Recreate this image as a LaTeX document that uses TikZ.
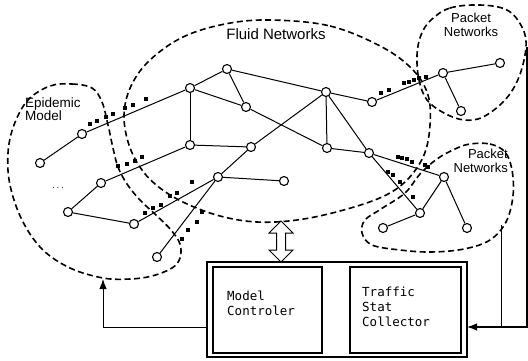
\documentclass[tikz,border=0pt]{standalone}
\usepackage{fontspec}
\setmainfont{Liberation Sans}
\newfontfamily\unitfont{DejaVu Sans Mono}
\usetikzlibrary{arrows.meta}
\tikzset{
	host/.style={circle, draw, fill=white, line width=1.1pt,
		inner sep=0pt, minimum size=9pt},
	pkt/.style={rectangle, fill=black, inner sep=0pt, minimum size=4pt},
	link/.style={line width=1pt},
	region/.style={line width=1.6pt, dash pattern=on 6pt off 3.5pt},
	lbl/.style={font=\fontsize{13}{14.5}\selectfont, inner sep=0pt},
	unit/.style={draw, line width=1.1pt, inner sep=0pt},
	unittext/.style={font=\unitfont\fontsize{12.5}{15}\selectfont,
		align=left, anchor=west, inner sep=0pt},
	arr/.style={line width=1pt, -{Latex[length=10pt,width=7.5pt]}}
}

\begin{document}
\begin{tikzpicture}[x=1pt, y=-1pt]
	\useasboundingbox (0,0) rectangle (528,360);

	\draw [region] plot [smooth cycle, tension=0.6] coordinates {
		(270,20) (330,26) (382,47) (413,70) (428,95) (430,125)
		(424,155) (407,180) (382,197) (340,211) (297,220) (257,222)
		(220,216) (185,203) (160,188) (142,170) (129,145) (124,115)
		(131,86) (150,60) (183,37) (225,24) };
	\draw [region] plot [smooth cycle, tension=0.6] coordinates {
		(50,86) (72,84) (92,88) (102,102) (108,125) (113,148)
		(118,167) (127,184) (140,200) (157,216) (171,230) (180,244)
		(180,258) (172,268) (152,276) (130,279) (103,278) (70,268)
		(42,249) (22,220) (10,185) (8,153) (14,125) (28,100) };
	\draw [region] plot [smooth cycle, tension=0.6] coordinates {
		(431,20) (450,8) (480,5) (507,10) (522,27) (526,47)
		(519,77) (505,100) (483,117) (464,120) (444,113) (427,100)
		(419,80) (417,55) (421,35) };
	\draw [region] plot [smooth cycle, tension=0.6] coordinates {
		(470,144) (490,144) (505,152) (512,170) (513,196) (506,222)
		(490,240) (464,249) (431,252) (400,250) (372,245) (362,233)
		(365,220) (381,209) (405,193) (420,174) (437,159) (455,149) };

	\node [lbl, font=\fontsize{15}{16}\selectfont] (fluid) at (276,34) {Fluid Networks};
	\node [lbl, align=left, anchor=west, font=\fontsize{13.5}{12.5}\selectfont]
		(epi) at (25,109) {Epidemic\\Model};
	\node [lbl, align=center] (pk1) at (471,25) {Packet\\Networks};
	\node [lbl, align=right, anchor=east] (pk2) at (508,161) {Packet\\Networks};
	\node (dots) at (58,188) {$\cdots$};

	\node [host] (1) at (40,163) {};
	\node [host] (2) at (82,134) {};
	\node [host] (3) at (101,183) {};
	\node [host] (4) at (68,212) {};
	\node [host] (5) at (134,224) {};
	\node [host] (6) at (157,257) {};
	\node [host] (7) at (190,88) {};
	\node [host] (8) at (227,69) {};
	\node [host] (9) at (246,107) {};
	\node [host] (10) at (190,145) {};
	\node [host] (11) at (251,147) {};
	\node [host] (12) at (218,177) {};
	\node [host] (13) at (284,181) {};
	\node [host] (14) at (326,92) {};
	\node [host] (15) at (327,148) {};
	\node [host] (16) at (372,102) {};
	\node [host] (17) at (369,153) {};
	\node [host] (18) at (443,73) {};
	\node [host] (19) at (500,63) {};
	\node [host] (20) at (461,111) {};
	\node [host] (21) at (444,177) {};
	\node [host] (22) at (420,213) {};
	\node [host] (23) at (383,228) {};
	\node [host] (24) at (467,228) {};

	\draw [link] (1) -- (2);
	\draw [link] (2) -- (7);
	\draw [link] (3) -- (4);
	\draw [link] (4) -- (5);
	\draw [link] (3) -- (10);
	\draw [link] (5) -- (12);
	\draw [link] (6) -- (12);
	\draw [link] (7) -- (8);
	\draw [link] (7) -- (9);
	\draw [link] (8) -- (9);
	\draw [link] (8) -- (14);
	\draw [link] (9) -- (15);
	\draw [link] (7) -- (10);
	\draw [link] (10) -- (11);
	\draw [link] (11) -- (14);
	\draw [link] (11) -- (12);
	\draw [link] (12) -- (13);
	\draw [link] (14) -- (15);
	\draw [link] (14) -- (16);
	\draw [link] (14) -- (17);
	\draw [link] (15) -- (17);
	\draw [link] (16) -- (18);
	\draw [link] (18) -- (19);
	\draw [link] (18) -- (20);
	\draw [link] (17) -- (21);
	\draw [link] (17) -- (22);
	\draw [link] (21) -- (22);
	\draw [link] (22) -- (23);
	\draw [link] (21) -- (24);

	\node [pkt] (d1) at (90,124) {};   \node [pkt] (d2) at (97,121) {};
	\node [pkt] (d3) at (106,117) {};  \node [pkt] (d4) at (113,114) {};
	\node [pkt] (d5) at (125,108) {};  \node [pkt] (d6) at (133,105) {};
	\node [pkt] (d7) at (146,99) {};
	\node [pkt] (d8) at (118,166) {};  \node [pkt] (d9) at (127,164) {};
	\node [pkt] (d10) at (135,161) {}; \node [pkt] (d11) at (142,157) {};
	\node [pkt] (d12) at (145,213) {}; \node [pkt] (d13) at (153,208) {};
	\node [pkt] (d14) at (161,205) {}; \node [pkt] (d15) at (170,196) {};
	\node [pkt] (d16) at (177,193) {}; \node [pkt] (d17) at (192,182) {};
	\node [pkt] (d18) at (182,239) {}; \node [pkt] (d19) at (188,230) {};
	\node [pkt] (d20) at (197,222) {}; \node [pkt] (d21) at (202,212) {};
	\node [pkt] (d22) at (381,93) {};  \node [pkt] (d23) at (389,90) {};
	\node [pkt] (d24) at (404,83) {};  \node [pkt] (d25) at (409,82) {};
	\node [pkt] (d26) at (414,80) {};  \node [pkt] (d27) at (419,78) {};
	\node [pkt] (d28) at (426,77) {};
	\node [pkt] (d29) at (398,157) {}; \node [pkt] (d30) at (402,158) {};
	\node [pkt] (d31) at (407,159) {}; \node [pkt] (d32) at (412,162) {};
	\node [pkt] (d33) at (425,165) {}; \node [pkt] (d34) at (428,167) {};
	\node [pkt] (d35) at (388,172) {}; \node [pkt] (d36) at (393,175) {};
	\node [pkt] (d37) at (400,182) {}; \node [pkt] (d38) at (413,197) {};

	\node [unit, line width=1.8pt, minimum width=260pt, minimum height=95pt]
		(sim) at (337,309.5) {};
	\node [unit, minimum width=109pt, minimum height=86pt]
		(ctl) at (267.5,310) {};
	\node [unit, minimum width=111pt, minimum height=86pt]
		(stat) at (405.5,310) {};
	\node [unittext] (ctltext) at (227,303) {Model\\Controler};
	\node [unittext] (stattext) at (362,307) {Traffic\\Stat\\Collector};

	\draw [line width=1pt, fill=white]
		(281,221) -- (293,233) -- (285.5,233) -- (285.5,250) -- (293,250)
		-- (281,262) -- (269,250) -- (276.5,250) -- (276.5,233) -- (269,233)
		-- cycle;

	\coordinate (lin) at (207,327);
	\coordinate (epiin) at (103,279);
	\coordinate (rin) at (467,327);
	\coordinate (pkout1) at (527,47);
	\coordinate (pkout2) at (501,225);
	\draw [arr] (lin) -| (epiin);
	\draw [arr, line width=1.3pt] (pkout1) |- (rin);
	\draw [line width=1pt] (pkout2) -- (pkout2 |- rin);
\end{tikzpicture}
\end{document}
